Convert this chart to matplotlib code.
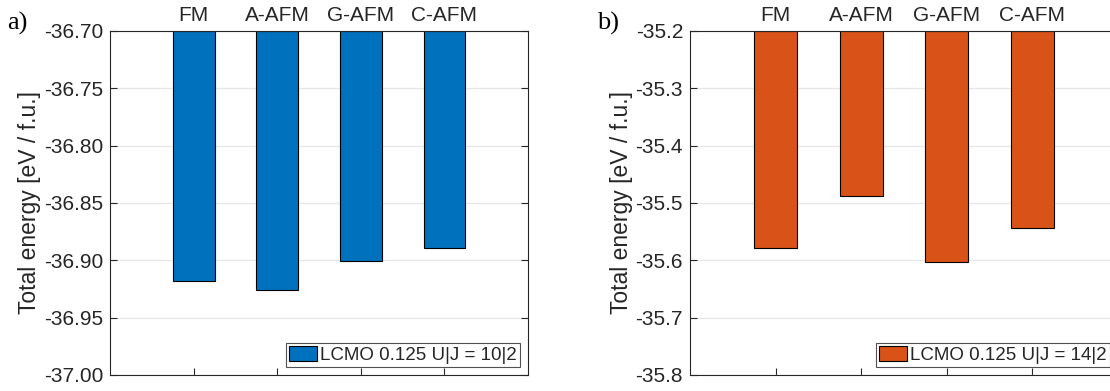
import numpy as np
import matplotlib
matplotlib.use("Agg")
import matplotlib.pyplot as plt

plt.rcParams['font.family'] = ['Liberation Sans', 'DejaVu Sans']

phases = ["FM", "A-AFM", "G-AFM", "C-AFM"]
energy_a = [-36.918, -36.926, -36.901, -36.889]
energy_b = [-35.579, -35.488, -35.603, -35.543]
label_a = "LCMO 0.125 U|J = 10|2"
label_b = "LCMO 0.125 U|J = 14|2"
yticks_a = [-37.00, -36.95, -36.90, -36.85, -36.80, -36.75, -36.70]
yticks_b = [-35.8, -35.7, -35.6, -35.5, -35.4, -35.3, -35.2]

blue = "#0072BD"
orange = "#D95319"
axcol = "#262626"
fs = 15

fig = plt.figure(figsize=(11.10, 3.91), dpi=100)
ax_a = fig.add_axes([110/1110, 16/391, 418/1110, 344/391])
ax_b = fig.add_axes([690/1110, 16/391, 428/1110, 344/391])


def draw(ax, vals, yticks, fmt, color, label, letter, letter_x):
    x = np.arange(1, len(vals) + 1)
    top = yticks[-1]
    ax.bar(x, np.array(vals) - top, bottom=top, width=0.5, color=color,
           edgecolor="black", linewidth=0.8, label=label, zorder=2)
    ax.set_xlim(0, 5)
    ax.set_ylim(yticks[0], top)
    ax.set_yticks(yticks)
    ax.set_yticklabels([fmt % v for v in yticks], fontsize=fs, color=axcol)
    ax.set_xticks(x)
    ax.set_xticklabels(phases, fontsize=fs, color=axcol)
    ax.tick_params(axis='x', which='both', top=False, bottom=True,
                   labeltop=True, labelbottom=False, direction='in',
                   length=5, color=axcol, pad=4)
    ax.tick_params(axis='y', direction='in', left=True, right=True,
                   length=5, color=axcol, pad=5)
    ax.yaxis.grid(True, color="#e6e6e6", linewidth=0.9)
    ax.set_axisbelow(True)
    for s in ax.spines.values():
        s.set_color(axcol)
        s.set_linewidth(0.8)
    ax.set_ylabel("Total energy [eV / f.u.]", fontsize=16.5, color=axcol,
                  labelpad=2)
    leg = ax.legend(loc="lower right", fontsize=13.5, frameon=True,
                    fancybox=False, borderpad=0.15, handlelength=1.5,
                    handleheight=0.9, handletextpad=0.15,
                    borderaxespad=0.45)
    leg.get_frame().set_edgecolor(axcol)
    leg.get_frame().set_linewidth(0.8)
    for t in leg.get_texts():
        t.set_color(axcol)
    fig.text(letter_x, 1 - 30/391, letter, fontsize=19,
             family="Liberation Serif", ha="left", va="baseline")


draw(ax_a, energy_a, yticks_a, "%.2f", blue, label_a, "a)", 7/1110)
draw(ax_b, energy_b, yticks_b, "%.1f", orange, label_b, "b)", 597/1110)

fig.savefig("out.png", dpi=100)
